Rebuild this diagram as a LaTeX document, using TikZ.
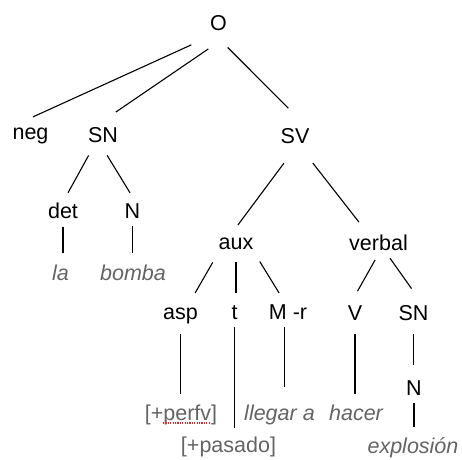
\documentclass[tikz,border=0pt]{standalone}
\usepackage{fontspec}
\setmainfont{Liberation Sans}
\usepackage{tikz}
\usetikzlibrary{calc}
\definecolor{LeafGray}{RGB}{100,100,100}
\definecolor{SpellRed}{RGB}{225,40,40}

\begin{document}
\begin{tikzpicture}[x=1pt,y=-1pt]
	\tikzstyle{Label}	= [anchor=base, inner sep=4pt, text height=15pt, text depth=4pt, font=\fontsize{21.5}{26}\selectfont]
	\tikzstyle{Feature}	= [Label, text=LeafGray]
	\tikzstyle{Word}	= [Feature, font=\fontsize{21.5}{26}\selectfont\itshape]
	\tikzstyle{Branch}	= [line width=1.1pt, black]
	\tikzstyle{Spell}	= [SpellRed, line width=1.1pt, dash pattern=on 1.2pt off 1.2pt]

	\useasboundingbox (0,0) rectangle (462,459);

	\node (O) at (218.5,30) [Label] {O};
	\node (neg) at (30.5,139) [Label] {neg};
	\node (SN) at (103,142) [Label] {SN};
	\node (SV) at (295,143) [Label] {SV};
	\node (det) at (63,218) [Label] {det};
	\node (N) at (132.5,218) [Label] {N};
	\node (la) at (60.5,280) [Word] {la};
	\node (bomba) at (133,280) [Word] {bomba};
	\node (aux) at (236,249) [Label] {aux};
	\node (verbal) at (378.5,250) [Label] {verbal};
	\node (asp) at (180.5,319) [Label] {asp};
	\node (t) at (234.5,319) [Label] {t};
	\node (M) at (288,319) [Label] {M -r};
	\node (V) at (355,320) [Label] {V};
	\node (SN2) at (413.5,320) [Label] {SN};
	\node (N2) at (414,395) [Label] {N};
	\node (perfv) at (181,420) [Feature] {[+perfv]};
	\node (llegar) at (279.5,420) [Word] {llegar a};
	\node (hacer) at (356,420) [Word] {hacer};
	\node (pasado) at (228.5,452) [Feature] {[+pasado]};
	\node (explosion) at (413,453) [Word] {explosión};

	\draw [Branch, shorten <=16pt, shorten >=7pt] (O.south west) to (neg.106);
	\draw [Branch, shorten <=19pt, shorten >=19pt] (O.292) to (SN.102);
	\draw [Branch, shorten <=13pt, shorten >=22pt] (O.south) to (SV.57);
	\draw [Branch, shorten <=6pt, shorten >=7pt] (SN.230) to (det.83);
	\draw [Branch, shorten <=6pt, shorten >=7pt] (SN.274) to (N.85);
	\draw [Branch, shorten <=1pt, shorten >=8pt] (det.south) to (det.south |- la.north);
	\draw [Branch, shorten >=8pt] (N.south) to (N.south |- bomba.north);
	\draw [Branch, shorten <=15pt, shorten >=6pt] (SV.261) to (aux.97);
	\draw [Branch, shorten <=15pt, shorten >=11pt] (SV.302) to (verbal.133);
	\draw [Branch, shorten <=6pt, shorten >=8pt] (aux.214) to (asp.52);
	\draw [Branch, shorten <=5pt, shorten >=7pt] (aux.south) to (aux.south |- t.north);
	\draw [Branch, shorten <=5pt, shorten >=8pt] (aux.327) to (M.109);
	\draw [Branch, shorten <=7pt, shorten >=7pt] (asp.south) to (asp.south |- perfv.north);
	\draw [Branch, shorten >=5pt] (t.south) to (t.south |- pasado.north);
	\draw [Branch, shorten >=14pt] (M.255) to (M.255 |- llegar.north);
	\draw [Branch, shorten <=2pt, shorten >=11pt] (verbal.260) to (V.102);
	\draw [Branch, shorten >=15pt] (verbal.310) to (SN2.64);
	\draw [Branch, shorten <=6pt, shorten >=7pt] (V.south) to (V.south |- hacer.north);
	\draw [Branch, shorten <=6pt, shorten >=11pt] (SN2.south) to (SN2.south |- N2.north);
	\draw [Branch, shorten >=7pt] (N2.south) to (N2.south |- explosion.north);

	% spell-check mark under perfv
	\draw [Spell] ($(perfv.base)+(-18,3)$) to ($(perfv.base)+(30,3)$);
\end{tikzpicture}
\end{document}
